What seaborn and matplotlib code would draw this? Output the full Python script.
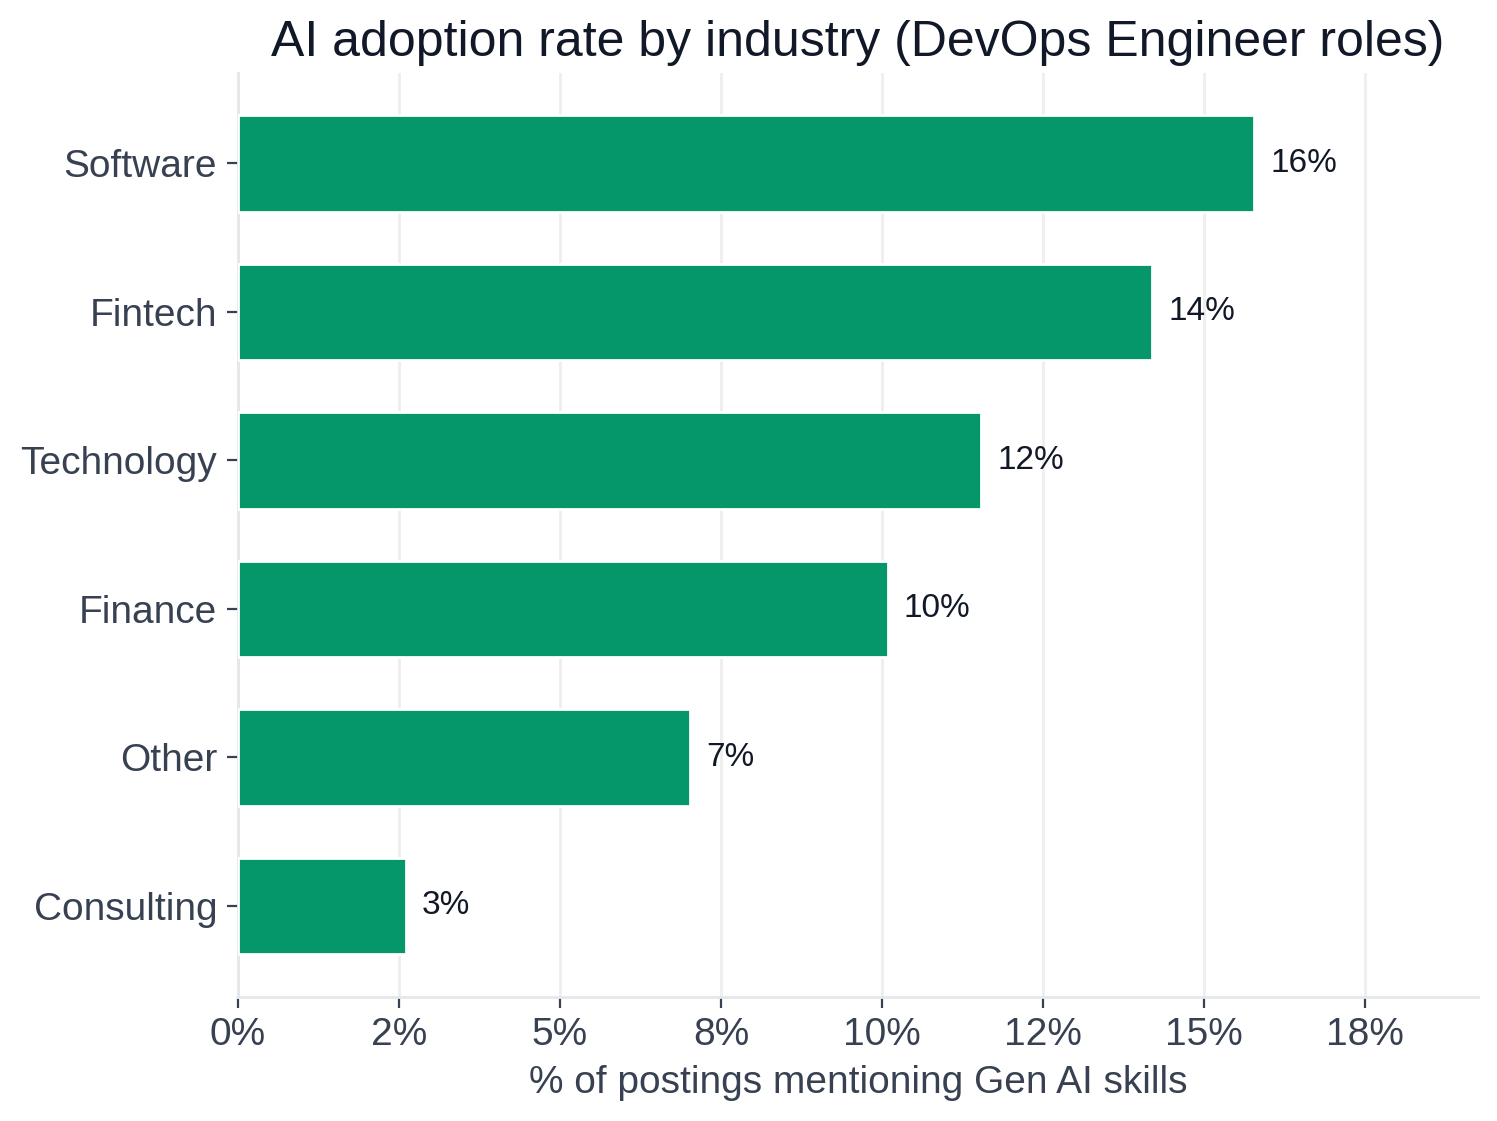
import numpy as np
import pandas as pd
import seaborn as sns
import matplotlib.pyplot as plt
from matplotlib.ticker import MultipleLocator, FuncFormatter

# Daten
industries = ['Software', 'Fintech', 'Technology', 'Finance', 'Other', 'Consulting']
adoption = [0.1578, 0.1420, 0.1154, 0.1009, 0.0702, 0.0261]

df = pd.DataFrame({'industry': industries, 'rate': adoption})

sns.set_theme(style='white')
plt.rcParams['font.family'] = ['Liberation Sans', 'DejaVu Sans']

fig = plt.figure(figsize=(7.485, 5.605), dpi=200)
ax = fig.add_axes([0.159, 0.111, 0.828, 0.824])

sns.barplot(x='rate', y='industry', data=df, color='#059669', saturation=1,
            width=0.65, ax=ax, zorder=3)

for i, v in enumerate(df['rate']):
    ax.text(v + 0.0025, i, f'{v:.0%}', va='center', ha='left',
            fontsize=12, color='#111827')

ax.set_xlim(0, df['rate'].max() * 1.22)
ax.set_ylim(5.61, -0.61)
ax.xaxis.set_major_locator(MultipleLocator(0.025))
ax.xaxis.set_major_formatter(FuncFormatter(lambda x, p: f'{round(x * 100, 6):.0f}%'))

ax.grid(axis='x', color='#eeeeee', linewidth=1, zorder=0)
ax.grid(axis='y', visible=False)

for s in ['top', 'right']:
    ax.spines[s].set_visible(False)
for s in ['left', 'bottom']:
    ax.spines[s].set_color('#e5e7eb')
    ax.spines[s].set_linewidth(1)

ax.tick_params(axis='both', which='major', length=4, width=0.8, color='#374151',
               labelcolor='#374151', labelsize=14, left=True, bottom=True)

ax.set_title('AI adoption rate by industry (DevOps Engineer roles)', fontsize=18,
             color='#111827', loc='center', pad=6)
ax.set_xlabel('% of postings mentioning Gen AI skills', fontsize=14, color='#374151')
ax.set_ylabel('')

plt.savefig('out.png', dpi=200)
